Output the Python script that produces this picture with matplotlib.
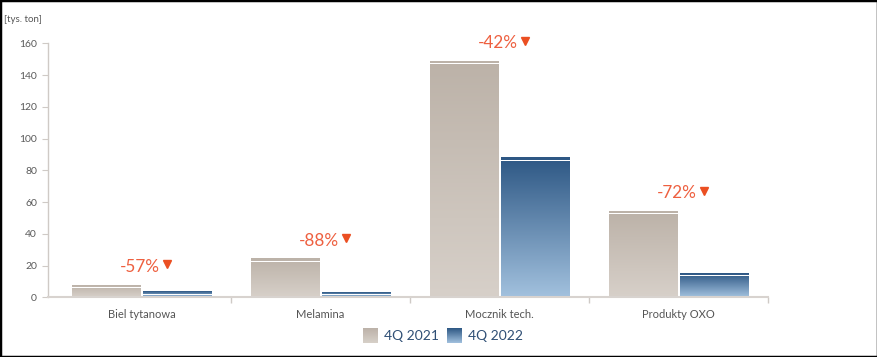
import numpy as np
import matplotlib
matplotlib.use("Agg")
import matplotlib.pyplot as plt
from matplotlib.colors import LinearSegmentedColormap
from matplotlib.patches import Rectangle
from matplotlib.transforms import offset_copy

categories = ["Biel tytanowa", "Melamina", "Mocznik tech.", "Produkty OXO"]
series_names = ["4Q 2021", "4Q 2022"]
values_2021 = [7.5, 24.0, 148.5, 53.8]
values_2022 = [3.3, 3.1, 87.8, 15.0]
changes = ["-57%", "-88%", "-42%", "-72%"]
yticks = [0, 20, 40, 60, 80, 100, 120, 140, 160]
unit_label = "[tys. ton]"

plt.rcParams['font.family'] = ['Lato', 'DejaVu Sans']

W, H = 878, 357
fig = plt.figure(figsize=(W / 100, H / 100), dpi=100)
ax = fig.add_axes([48 / W, 59.7 / H, 720 / W, 254 / H])

gray_cmap = LinearSegmentedColormap.from_list("g", ["#d7d0c9", "#bcb2a8"])
blue_cmap = LinearSegmentedColormap.from_list("b", ["#a2c1de", "#2d5784"])
grad = np.linspace(0, 1, 256).reshape(-1, 1)

px = 160 / 254.0
PT = 0.72  # points per pixel at 100 dpi
width = 0.385
offsets = [-0.198, 0.2]
x = np.arange(len(categories))

for series, cmap, off in [(values_2021, gray_cmap, offsets[0]), (values_2022, blue_cmap, offsets[1])]:
    for xi, v in zip(x, series):
        x0, x1 = xi + off - width / 2, xi + off + width / 2
        ax.imshow(grad, cmap=cmap, origin='lower', aspect='auto',
                  extent=(x0, x1, 0, v), zorder=2, interpolation='bilinear')
        # white gap below the cap
        ax.add_patch(Rectangle((x0 - 0.002, v - 2.6 * px), width + 0.004, 1.0 * px,
                               facecolor='white', edgecolor='none', zorder=3))

# change labels
tri_tr = offset_copy(ax.transData, fig=fig, x=26 * PT, y=21 * PT, units='points')
for xi, v, c in zip(x, values_2021, changes):
    ax.annotate(c, xy=(xi, v), xytext=(-1.5 * PT, 18.5 * PT), textcoords='offset points',
                ha='center', va='center', fontsize=12.3, color='#ee6040', zorder=5,
                annotation_clip=False)
    ax.plot([xi], [v], marker='v', markersize=6, color='#eb4f22',
            linestyle='none', zorder=5, transform=tri_tr, clip_on=False)

ax.set_xlim(-0.5 - 4 / 179, 3.5)
ax.set_ylim(0, 160)

for s in ['top', 'right']:
    ax.spines[s].set_visible(False)
ax.spines['left'].set_color('#cfcac6')
ax.spines['left'].set_linewidth(1.0)
ax.spines['bottom'].set_color('#d8d3cf')
ax.spines['bottom'].set_linewidth(1.5)

ax.set_yticks(yticks)
ax.set_yticklabels([str(t) for t in yticks])
ax.tick_params(axis='y', length=4.5, width=0.8, color='#cfcac6', labelsize=7.5,
               labelcolor='#5a5a5a', pad=3.5)

ax.set_xticks(x)
ax.set_xticklabels(categories)
ax.tick_params(axis='x', which='major', length=0, labelsize=8, labelcolor='#555555', pad=8.5)
ax.set_xticks([0.5, 1.5, 2.5, 3.5], minor=True)
ax.tick_params(axis='x', which='minor', length=4, width=1.0, color='#cfcac6')

fig.text(4 / W, 1 - 19 / H, unit_label, fontsize=7, color='#555555', ha='left', va='center')

# legend
for (lx, name, cmap) in [(363, series_names[0], gray_cmap), (447, series_names[1], blue_cmap)]:
    lax = fig.add_axes([lx / W, (H - 343) / H, 15 / W, 15 / H])
    lax.imshow(grad, cmap=cmap, origin='lower', aspect='auto', extent=(0, 1, 0, 1))
    lax.set_axis_off()
    fig.text((lx + 21) / W, (H - 336) / H, name, fontsize=10, color='#2f4f75',
             ha='left', va='center')

fig.patches.append(Rectangle((0, 0), 1, 1, transform=fig.transFigure, fill=False,
                             edgecolor='black', linewidth=2.5))

fig.savefig("out.png", dpi=100)
